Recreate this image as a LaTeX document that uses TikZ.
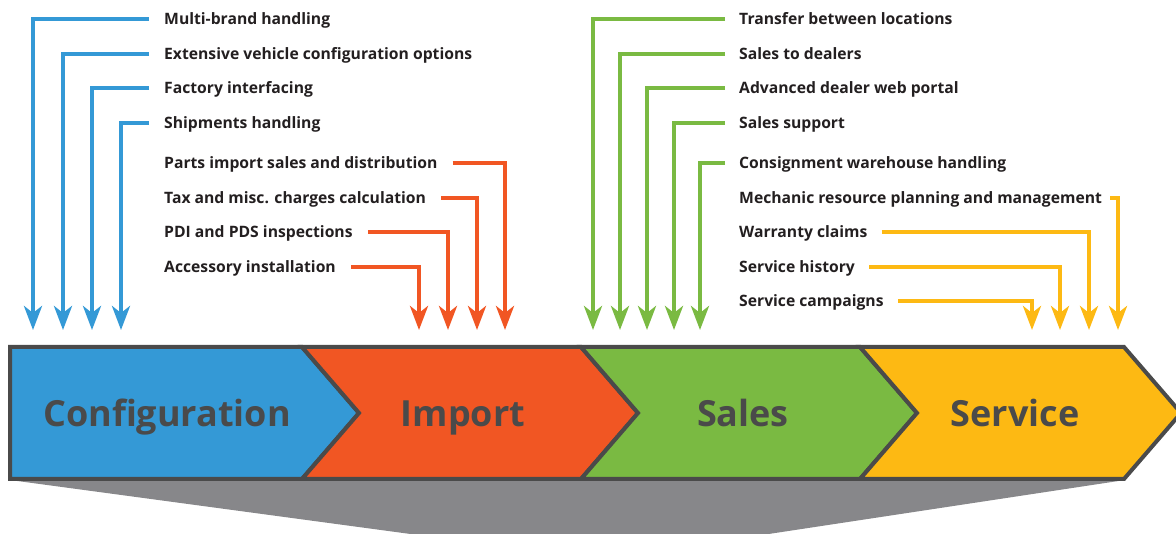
\documentclass[tikz,border=0pt]{standalone}
\usepackage{fontspec}
\setmainfont{Open Sans}
\usetikzlibrary{arrows.meta}
\definecolor{cblue}{HTML}{3499D6}
\definecolor{corange}{HTML}{F15623}
\definecolor{cgreen}{HTML}{7ABA42}
\definecolor{cyellow}{HTML}{FDB913}
\definecolor{cdark}{HTML}{4A4A4A}
\definecolor{cgray}{HTML}{87878A}
\definecolor{ctext}{HTML}{231F20}
\tikzset{
  lbl/.style={anchor=west, inner sep=0pt, text height=14pt, text depth=2pt, text=ctext, font=\fontsize{15.7}{18}\selectfont\bfseries},
  feed/.style={line width=4pt, -{Stealth[length=24pt,width=18pt,inset=7pt]}},
  bfeed/.style={feed, draw=cblue},
  ofeed/.style={feed, draw=corange},
  gfeed/.style={feed, draw=cgreen},
  yfeed/.style={feed, draw=cyellow},
  chev/.style={draw=cdark, line width=4pt, line join=miter},
  stage/.style={anchor=base, inner sep=0pt, text=cdark, font=\fontsize{36}{40}\selectfont\bfseries},
}
\begin{document}
\begin{tikzpicture}[x=1pt,y=-1pt]
\clip (0,0) rectangle (1176,534);
% shadow
\fill[cgray] (10,480) -- (1125,480) -- (729,540) -- (455,540) -- cycle;
% chevrons
\path[chev, fill=cblue] (10,347) -- (302,347) -- (359,413) -- (302,479) -- (10,479) -- cycle;
\path[chev, fill=corange] (302,347) -- (581,347) -- (638,413) -- (581,479) -- (302,479) -- (359,413) -- cycle;
\path[chev, fill=cgreen] (581,347) -- (860,347) -- (917,413) -- (860,479) -- (581,479) -- (638,413) -- cycle;
\path[chev, fill=cyellow] (860,347) -- (1124,347) -- (1181,413) -- (1124,479) -- (860,479) -- (917,413) -- cycle;
\node[stage] (s1) at (167,427) {Configuration};
\node[stage] (s2) at (463,427) {Import};
\node[stage] (s3) at (743,427) {Sales};
\node[stage] (s4) at (1015,427) {Service};
% arrow tips
\foreach \n/\x in {a1/33,a2/63,a3/92,a4/121,o1/419,o2/448,o3/477,o4/505,g1/593,g2/620,g3/647,g4/674,g5/700,y1/1032,y2/1060,y3/1089,y4/1118}
  \coordinate (\n) at (\x,330);
% configuration labels
\node[lbl] (c1) at (164,19) {Multi-brand handling};
\node[lbl] (c2) at (164,54) {Extensive vehicle configuration options};
\node[lbl] (c3) at (164,88) {Factory interfacing};
\node[lbl] (c4) at (164,123) {Shipments handling};
\draw[bfeed] ([xshift=-15pt]c1.west) -| (a1);
\draw[bfeed] ([xshift=-15pt]c2.west) -| (a2);
\draw[bfeed] ([xshift=-15pt]c3.west) -| (a3);
\draw[bfeed] ([xshift=-15pt]c4.west) -| (a4);
% import labels
\node[lbl] (i1) at (164,163) {Parts import sales and distribution};
\node[lbl] (i2) at (164,198) {Tax and misc. charges calculation};
\node[lbl] (i3) at (164,232) {PDI and PDS inspections};
\node[lbl] (i4) at (164,267) {Accessory installation};
\draw[ofeed] ([xshift=15pt]i1.east) -| (o4);
\draw[ofeed] ([xshift=15pt]i2.east) -| (o3);
\draw[ofeed] ([xshift=15pt]i3.east) -| (o2);
\draw[ofeed] ([xshift=15pt]i4.east) -| (o1);
% sales labels
\node[lbl] (l1) at (739,19) {Transfer between locations};
\node[lbl] (l2) at (739,54) {Sales to dealers};
\node[lbl] (l3) at (739,88) {Advanced dealer web portal};
\node[lbl] (l4) at (739,123) {Sales support};
\node[lbl] (l5) at (739,163) {Consignment warehouse handling};
\draw[gfeed] ([xshift=-14pt]l1.west) -| (g1);
\draw[gfeed] ([xshift=-14pt]l2.west) -| (g2);
\draw[gfeed] ([xshift=-14pt]l3.west) -| (g3);
\draw[gfeed] ([xshift=-14pt]l4.west) -| (g4);
\draw[gfeed] ([xshift=-14pt]l5.west) -| (g5);
% service labels
\node[lbl] (v1) at (739,198) {Mechanic resource planning and management};
\node[lbl] (v2) at (739,232) {Warranty claims};
\node[lbl] (v3) at (739,267) {Service history};
\node[lbl] (v4) at (739,301) {Service campaigns};
\draw[yfeed] ([xshift=8pt]v1.east) -| (y4);
\draw[yfeed] ([xshift=14pt]v2.east) -| (y3);
\draw[yfeed] ([xshift=14pt]v3.east) -| (y2);
\draw[yfeed] ([xshift=14pt]v4.east) -| (y1);
\end{tikzpicture}
\end{document}
